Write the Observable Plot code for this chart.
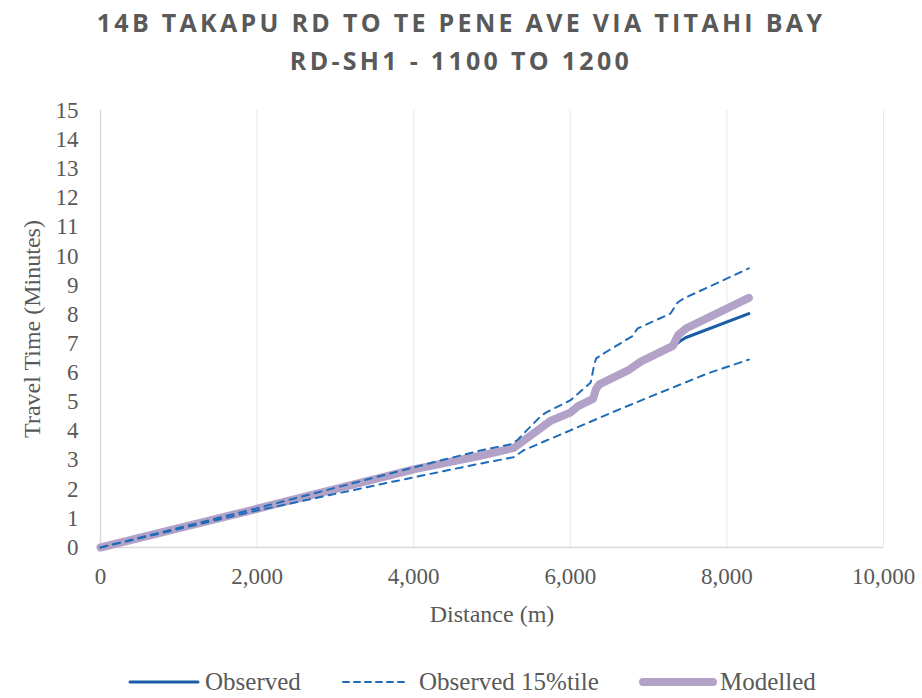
<!DOCTYPE html>
<html>
<head>
<meta charset="utf-8">
<script src="https://cdn.jsdelivr.net/npm/d3@7"></script>
<script src="https://cdn.jsdelivr.net/npm/@observablehq/plot@0.6"></script>
<style>
  body { margin: 0; background: #fff; width: 922px; height: 698px; position: relative; overflow: hidden; }
  #title { position: absolute; left: 0; top: 3px; width: 922px; text-align: center; font-family: "Open Sans", sans-serif; font-weight: 700; font-size: 25px; letter-spacing: 3.3px; color: #595959; line-height: 38px; }
  #chart { position: absolute; left: 0; top: 85px; }
  #legend { position: absolute; left: 0; top: 666px; width: 922px; height: 32px; }
</style>
</head>
<body>
<div id="title">14B TAKAPU RD TO TE PENE AVE VIA TITAHI BAY<br>RD-SH1 - 1100 TO 1200</div>
<div id="chart"></div>
<svg id="legend" width="922" height="32"></svg>
<script>
// ---- data (distance in m, travel time in minutes) ----
const observedX = [0, 2000, 4000, 4850, 5280, 5370, 5650, 5750, 6000, 6100, 6290, 6330, 6370, 6750, 6900, 7310, 7400, 7470, 8280];
const observedY = [0, 1.30, 2.64, 3.12, 3.39, 3.57, 4.12, 4.32, 4.60, 4.82, 5.07, 5.42, 5.57, 6.07, 6.35, 6.89, 7.08, 7.20, 8.03];

const modelledX = [0, 2000, 4000, 4850, 5280, 5370, 5650, 5750, 6000, 6100, 6290, 6330, 6370, 6750, 6900, 7310, 7380, 7480, 8280];
const modelledY = [0, 1.33, 2.68, 3.15, 3.42, 3.60, 4.15, 4.35, 4.63, 4.85, 5.10, 5.45, 5.60, 6.10, 6.38, 6.92, 7.30, 7.52, 8.57];

const upperX = [0, 2000, 4000, 4850, 5250, 5330, 5400, 5620, 5700, 6000, 6260, 6300, 6330, 6420, 6790, 6860, 7280, 7370, 7450, 8280];
const upperY = [0, 1.35, 2.75, 3.33, 3.55, 3.70, 3.90, 4.50, 4.65, 5.05, 5.66, 6.20, 6.49, 6.65, 7.25, 7.52, 8.03, 8.41, 8.55, 9.58];

const lowerX = [0, 2000, 4000, 4850, 5275, 5400, 5650, 6000, 6500, 7060, 7750, 8280];
const lowerY = [0, 1.27, 2.41, 2.88, 3.10, 3.33, 3.62, 4.02, 4.60, 5.22, 5.97, 6.45];

const xTicks = [0, 2000, 4000, 6000, 8000, 10000];
const yTicks = [0, 1, 2, 3, 4, 5, 6, 7, 8, 9, 10, 11, 12, 13, 14, 15];

const seriesNames = ["Observed", "Observed 15%tile", "Modelled"];
const colObserved = "#1a5ca6";
const colDashed = "#1f6bb8";
const colModelled = "#b3a2c8";

const toRows = (xs, ys) => xs.map((x, i) => ({x, y: ys[i]}));
const observed = toRows(observedX, observedY);
const modelled = toRows(modelledX, modelledY);
const upper = toRows(upperX, upperY);
const lower = toRows(lowerX, lowerY);

const chart = Plot.plot({
  width: 922,
  height: 542,
  marginLeft: 100,
  marginRight: 39,
  marginTop: 25,
  marginBottom: 80,
  style: {fontFamily: "'Liberation Serif', serif", fontSize: "23px", color: "#595959", background: "transparent"},
  x: {domain: [0, 10000]},
  y: {domain: [0, 15]},
  marks: [
    Plot.gridX(xTicks.slice(1), {stroke: "#d9d9d9", strokeOpacity: 0.6}),
    Plot.ruleX([0], {stroke: "#d9d9d9", strokeWidth: 1.5}),
    Plot.ruleY([0], {stroke: "#d9d9d9", strokeWidth: 1.5}),
    Plot.axisX({ticks: xTicks, tickFormat: d3.format(","), tickSize: 0, tickPadding: 20, label: null}),
    Plot.axisY({ticks: yTicks, tickSize: 0, tickPadding: 22, label: null}),
    Plot.text(["Distance (m)"], {frameAnchor: "bottom", dy: 74, fontSize: 24, fill: "#595959"}),
    Plot.text(["Travel Time (Minutes)"], {frameAnchor: "left", dx: -68, rotate: -90, textAnchor: "middle", fontSize: 24, fill: "#595959"}),
    Plot.line(observed, {x: "x", y: "y", stroke: colObserved, strokeWidth: 3}),
    Plot.line(modelled, {x: "x", y: "y", stroke: colModelled, strokeWidth: 8}),
    Plot.line(upper, {x: "x", y: "y", stroke: colDashed, strokeWidth: 2, strokeDasharray: "7,6"}),
    Plot.line(lower, {x: "x", y: "y", stroke: colDashed, strokeWidth: 2, strokeDasharray: "7,6"})
  ]
});
document.getElementById("chart").appendChild(chart);

// legend
const leg = d3.select("#legend");
const items = [
  {name: seriesNames[0], x0: 130, x1: 198, tx: 205, stroke: colObserved, w: 3, dash: null},
  {name: seriesNames[1], x0: 343, x1: 406, tx: 419, stroke: colDashed, w: 2, dash: "6,5"},
  {name: seriesNames[2], x0: 643, x1: 713, tx: 720, stroke: colModelled, w: 8, dash: null}
];
items.forEach(d => {
  leg.append("line").attr("x1", d.x0).attr("x2", d.x1).attr("y1", 16).attr("y2", 16)
    .attr("stroke", d.stroke).attr("stroke-width", d.w).attr("stroke-linecap", "round")
    .attr("stroke-dasharray", d.dash);
  leg.append("text").attr("x", d.tx).attr("y", 24).text(d.name)
    .attr("font-family", "'Liberation Serif', serif").attr("font-size", 25).attr("fill", "#595959");
});
</script>
</body>
</html>
